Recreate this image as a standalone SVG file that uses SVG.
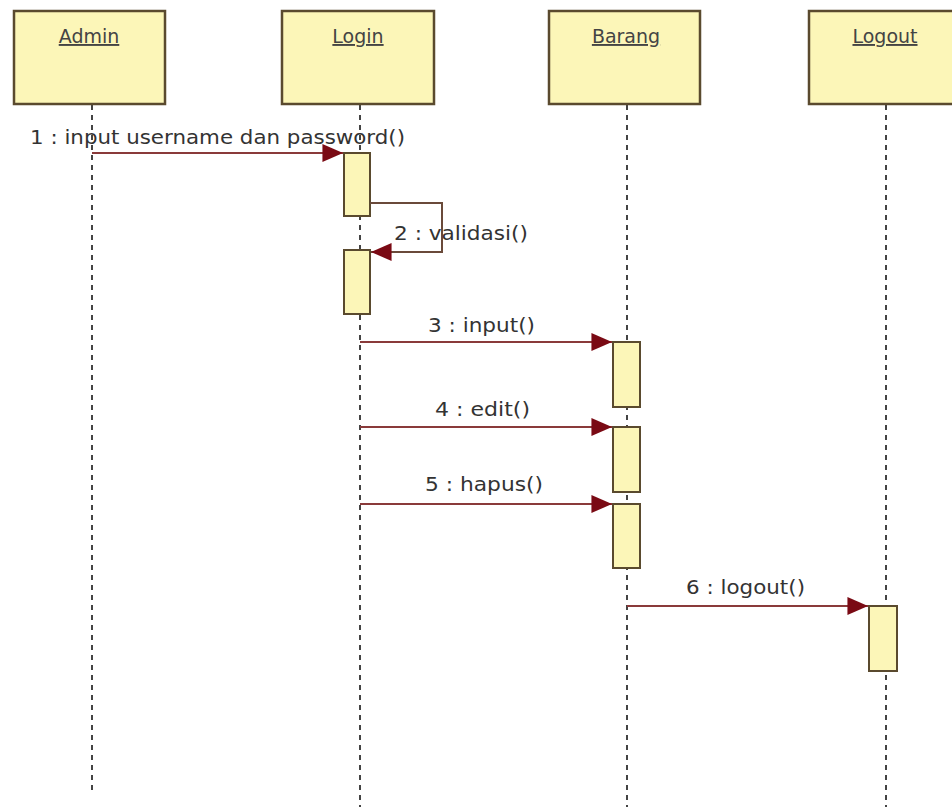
<svg xmlns="http://www.w3.org/2000/svg" width="952" height="807" viewBox="0 0 952 807">
<style>
.obj{fill:#fcf6b8;stroke:#5a4a2e;stroke-width:2.5}
.act{fill:#fcf6b8;stroke:#5a4a2e;stroke-width:2}
.life{stroke:#444;stroke-width:2;stroke-dasharray:5,5;fill:none}
.msg{stroke:#8a3a3a;stroke-width:2;fill:none}
.self{stroke:#6a4a3a;stroke-width:2;fill:none}
.name{font-family:Tahoma,"DejaVu Sans","Liberation Sans",sans-serif;font-size:19px;fill:#444;text-decoration:underline;text-anchor:middle}
.lbl{font-family:Tahoma,"DejaVu Sans","Liberation Sans",sans-serif;font-size:20px;fill:#333}
</style>
<defs>
<marker id="ahbig" viewBox="0 0 16 14" refX="16" refY="7" markerWidth="22" markerHeight="18" markerUnits="userSpaceOnUse" orient="auto">
<path d="M0,0 L16,7 L0,14 z" fill="#7a0a14"/>
</marker>
</defs>
<rect width="952" height="807" fill="#fff"/>
<g id="lifelines">
<line class="life" x1="92" y1="105" x2="92" y2="792"/>
<line class="life" x1="360" y1="105" x2="360" y2="807"/>
<line class="life" x1="627" y1="105" x2="627" y2="807"/>
<line class="life" x1="886" y1="105" x2="886" y2="807"/>
</g>
<g id="admin">
<rect class="obj" x="14" y="11" width="151" height="93"/>
<text class="name" x="89" y="43">Admin</text>
</g>
<g id="login">
<rect class="obj" x="282" y="11" width="152" height="93"/>
<text class="name" x="358" y="43">Login</text>
<rect class="act" x="344" y="153" width="26" height="63"/>
<rect class="act" x="344" y="250" width="26" height="64"/>
</g>
<g id="barang">
<rect class="obj" x="549" y="11" width="151" height="93"/>
<text class="name" x="626" y="43">Barang</text>
<rect class="act" x="613" y="342" width="27" height="65"/>
<rect class="act" x="613" y="427" width="27" height="65"/>
<rect class="act" x="613" y="504" width="27" height="64"/>
</g>
<g id="logout">
<rect class="obj" x="809" y="11" width="160" height="93"/>
<text class="name" x="885" y="43">Logout</text>
<rect class="act" x="869" y="606" width="28" height="65"/>
</g>
<g id="connectors">
<line class="msg" x1="92" y1="153" x2="343" y2="153" marker-end="url(#ahbig)"/>
<polyline class="self" points="370,203 442,203 442,252 371,252" marker-end="url(#ahbig)"/>
<line class="msg" x1="360" y1="342" x2="612" y2="342" marker-end="url(#ahbig)"/>
<line class="msg" x1="360" y1="427" x2="612" y2="427" marker-end="url(#ahbig)"/>
<line class="msg" x1="360" y1="504" x2="612" y2="504" marker-end="url(#ahbig)"/>
<line class="msg" x1="627" y1="606" x2="868" y2="606" marker-end="url(#ahbig)"/>
</g>
<g id="labels">
<text class="lbl" x="30" y="144" textLength="375" lengthAdjust="spacingAndGlyphs">1 : input username dan password()</text>
<text class="lbl" x="394" y="240" textLength="134" lengthAdjust="spacingAndGlyphs">2 : validasi()</text>
<text class="lbl" x="428" y="332" textLength="107" lengthAdjust="spacingAndGlyphs">3 : input()</text>
<text class="lbl" x="435" y="416" textLength="95" lengthAdjust="spacingAndGlyphs">4 : edit()</text>
<text class="lbl" x="425" y="491" textLength="118" lengthAdjust="spacingAndGlyphs">5 : hapus()</text>
<text class="lbl" x="686" y="594" textLength="119" lengthAdjust="spacingAndGlyphs">6 : logout()</text>
</g>
</svg>
